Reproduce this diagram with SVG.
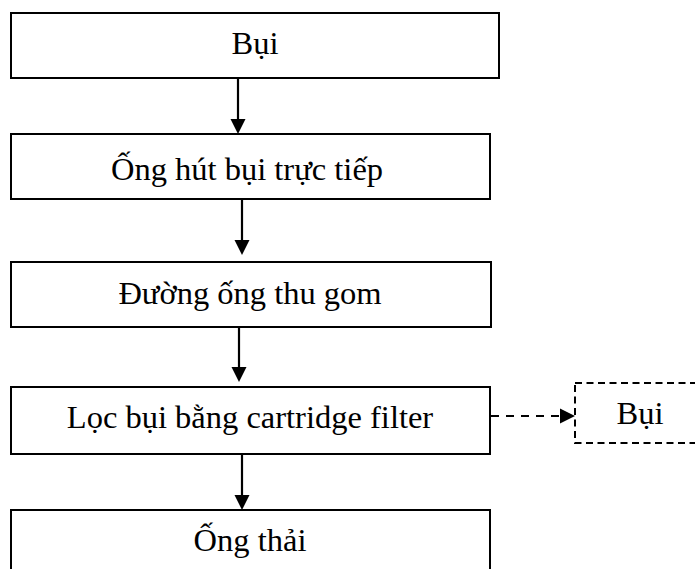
<svg xmlns="http://www.w3.org/2000/svg" width="695" height="569" viewBox="0 0 695 569">
  <style>
    .box { fill: #fff; stroke: #000; stroke-width: 2; }
    .dbox { fill: #fff; stroke: #000; stroke-width: 2; stroke-dasharray: 7 4.5; }
    .lbl { font-family: "Liberation Serif", "Times New Roman", serif; font-size: 32.5px; fill: #000; text-anchor: middle; }
    .link { stroke: #000; stroke-width: 2.2; fill: none; }
    .dlink { stroke: #000; stroke-width: 2.2; fill: none; stroke-dasharray: 8 7; }
    .head { fill: #000; stroke: none; }
  </style>
  <rect width="695" height="569" fill="#fff"/>

  <g id="connectors">
    <line class="link" x1="238" y1="78" x2="238" y2="120"/>
    <polygon class="head" points="230.5,119 245.5,119 238,134"/>
    <line class="link" x1="242" y1="199" x2="242" y2="241"/>
    <polygon class="head" points="234.5,240 249.5,240 242,255"/>
    <line class="link" x1="239" y1="327" x2="239" y2="368"/>
    <polygon class="head" points="231.5,367 246.5,367 239,382"/>
    <line class="link" x1="242" y1="454" x2="242" y2="496"/>
    <polygon class="head" points="234.5,495 249.5,495 242,510"/>
    <line class="dlink" x1="491" y1="416" x2="561" y2="416"/>
    <polygon class="head" points="560,408.5 575,416 560,423.5"/>
  </g>

  <g id="n1">
    <rect class="box" x="11" y="13" width="488" height="65"/>
    <text class="lbl" x="255" y="54">Bụi</text>
  </g>
  <g id="n2">
    <rect class="box" x="11" y="134" width="479" height="65"/>
    <text class="lbl" x="247" y="180">Ống hút bụi trực tiếp</text>
  </g>
  <g id="n3">
    <rect class="box" x="11" y="262" width="480" height="65"/>
    <text class="lbl" x="250" y="304">Đường ống thu gom</text>
  </g>
  <g id="n4">
    <rect class="box" x="11" y="387" width="479" height="67"/>
    <text class="lbl" x="250" y="428">Lọc bụi bằng cartridge filter</text>
  </g>
  <g id="n5">
    <rect class="box" x="11" y="510" width="479" height="70"/>
    <text class="lbl" x="250" y="551">Ống thải</text>
  </g>
  <g id="n6">
    <rect class="dbox" x="575" y="383" width="140" height="60"/>
    <text class="lbl" x="640" y="424">Bụi</text>
  </g>
</svg>
